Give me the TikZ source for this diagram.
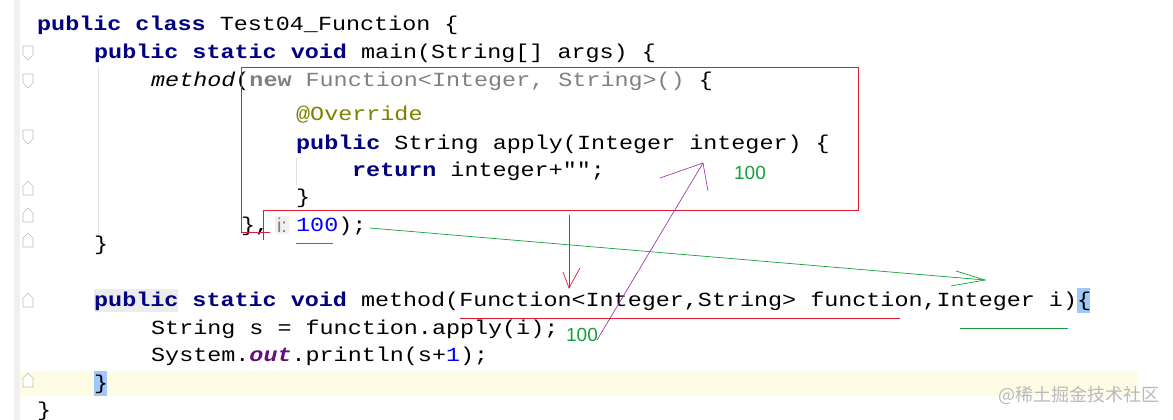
\documentclass[tikz,border=0pt]{standalone}
\usepackage{fontspec}
\newfontfamily\cf[FakeStretch=1.17]{Liberation Mono}
\newfontfamily\lsans{Liberation Sans}
\newfontfamily\cjk{Noto Sans CJK SC}
\definecolor{kw}{RGB}{0,0,128}
\definecolor{gr}{RGB}{128,128,128}
\definecolor{ol}{RGB}{128,128,0}
\definecolor{nb}{RGB}{0,0,255}
\definecolor{pu}{RGB}{102,14,122}
\definecolor{rd}{RGB}{220,30,50}
\definecolor{gn}{RGB}{20,160,60}
\definecolor{vi}{RGB}{150,40,160}
\definecolor{curline}{RGB}{255,252,230}
\definecolor{selb}{RGB}{160,200,250}
\newcommand{\kwd}[1]{{\bfseries\color{kw}#1}}
\begin{document}
\begin{tikzpicture}[x=1pt,y=-1pt,
  code/.style={anchor=base west,inner sep=0pt,font=\cf\fontsize{20}{22}\selectfont},
  note/.style={inner sep=0pt,font=\lsans\fontsize{19}{21}\selectfont,text=gn},
  fold/.style={draw=gray!50,fill=white,line width=0.6pt}]
\useasboundingbox (0,0) rectangle (1173,420);
\fill[white] (0,0) rectangle (1173,420);
% gutter
\fill[gray!12] (14,0) rectangle (20,420);
\fill[curline] (20,371) rectangle (1138,396);
\fill[selb] (1077,288) rectangle (1090,313);
\fill[selb] (94,371) rectangle (107,396);
\fill[gray!15] (94,289) rectangle (178,312);
% indent guides
\draw[gray!25] (98,68) -- (98,236);
\draw[gray!25] (296,158) -- (296,185);
% fold markers
\foreach \yy in {53,81,137} {\draw[fold] (23,\yy-7) -- (33,\yy-7) -- (33,\yy+2) -- (28,\yy+7) -- (23,\yy+2) -- cycle;}
\foreach \yy in {188,215,240,300,380} {\draw[fold] (23,\yy+7) -- (33,\yy+7) -- (33,\yy-2) -- (28,\yy-7) -- (23,\yy-2) -- cycle;}
% code
\node[code] (l1) at (37,31) {\kwd{public class} Test04\_Function \{};
\node[code] (l2) at (94,59) {\kwd{public static void} main(String[] args) \{};
\node[code] (l3) at (151,87) {\itshape method\upshape(\textcolor{gr}{\bfseries new}\ \textcolor{gr}{Function<Integer, String>()} \{};
\node[code,text=ol] (l4) at (296,121) {@Override};
\node[code] (l5) at (296,149) {\kwd{public} String apply(Integer integer) \{};
\node[code] (l6) at (352,176) {\kwd{return} integer+"{}";};
\node[code] (l7) at (296,203) {\}};
\node[code] (l8) at (241,231) {\},};
\node[fill=gray!12,rounded corners=2pt,inner sep=2pt,font=\lsans\fontsize{20}{22}\selectfont,text=gray] (hint) at (282,225) {i:};
\node[code] (l8b) at (296,231) {\textcolor{nb}{100});};
\node[code] (l9) at (94,250) {\}};
\node[code] (l10) at (94,306) {\kwd{public static void} method(Function<Integer,String> function,Integer i)\{};
\node[code] (l11) at (151,334) {String s = function.apply(i);};
\node[code] (l12) at (151,361) {System.{\bfseries\itshape\color{pu}out}.println(s+\textcolor{nb}{1});};
\node[code] (l13) at (94,389) {\}};
\node[code] (l14) at (37,416) {\}};
% red annotations
\draw[rd,line width=0.8pt] (241,232) -- (241,67) -- (858,67) -- (858,210) -- (263,210) -- (263,240);
\draw[rd,line width=0.8pt] (241,232) -- (270,232);
\coordinate (ra) at (569,215); \coordinate (rb) at (569,288);
\draw[rd,line width=0.7pt] (ra) -- (rb);
\draw[rd,line width=0.7pt] (563,272) -- (rb) -- (580,268);
\draw[rd,line width=0.8pt] (460,318) -- (900,318);
% green annotations
\draw[gn,line width=0.8pt] (296,243) -- (333,243);
\coordinate (ga) at (370,228); \coordinate (gb) at (985,280);
\draw[gn,line width=0.7pt] (ga) -- (gb);
\draw[gn,line width=0.7pt] (956,271) -- (gb) -- (951,286);
\draw[gn,line width=0.8pt] (960,328) -- (1068,328);
\node[note] (n1) at (750,173) {100};
\node[note] (n2) at (582,335) {100};
% violet arrow
\coordinate (va) at (597,340); \coordinate (vb) at (703,163);
\draw[vi,line width=0.6pt] (va) -- (vb);
\draw[vi,line width=0.6pt] (660,178) -- (vb) -- (708,191);
% watermark
\node[inner sep=0pt,anchor=east,font=\cjk\fontsize{18}{20}\selectfont,text=gray!55] (wm) at (1160,395) {@稀土掘金技术社区};
\end{tikzpicture}
\end{document}
